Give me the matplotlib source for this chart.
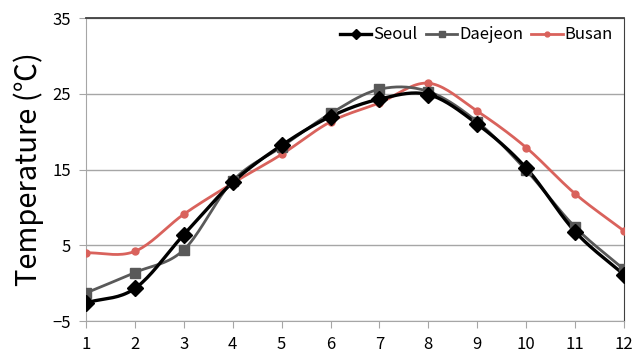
import numpy as np
import matplotlib
matplotlib.use("Agg")
import matplotlib.pyplot as plt

plt.rcParams['font.family'] = ['Noto Sans CJK KR', 'DejaVu Sans']

# Monthly mean temperature
months = [1, 2, 3, 4, 5, 6, 7, 8, 9, 10, 11, 12]
seoul = [-2.6, -0.7, 6.4, 13.3, 18.2, 22.0, 24.3, 24.9, 21.0, 15.2, 6.8, 1.1]
daejeon = [-1.3, 1.4, 4.4, 13.5, 18.0, 22.4, 25.6, 25.3, 21.3, 14.9, 7.4, 1.8]
busan = [4.0, 4.2, 9.1, 13.2, 17.0, 21.3, 23.8, 26.4, 22.7, 17.9, 11.8, 6.9]


def smooth(x, y, n=20):
    # Catmull-Rom spline through the points
    x = np.asarray(x, float)
    y = np.asarray(y, float)
    px = np.concatenate([[2 * x[0] - x[1]], x, [2 * x[-1] - x[-2]]])
    py = np.concatenate([[2 * y[0] - y[1]], y, [2 * y[-1] - y[-2]]])
    xs, ys = [], []
    t = np.linspace(0, 1, n, endpoint=False)
    for i in range(1, len(px) - 2):
        for p, out in ((px, xs), (py, ys)):
            p0, p1, p2, p3 = p[i - 1], p[i], p[i + 1], p[i + 2]
            out.extend(0.5 * (2 * p1 + (-p0 + p2) * t
                              + (2 * p0 - 5 * p1 + 4 * p2 - p3) * t ** 2
                              + (-p0 + 3 * p1 - 3 * p2 + p3) * t ** 3))
    xs.append(x[-1])
    ys.append(y[-1])
    return np.array(xs), np.array(ys)


fig = plt.figure(figsize=(6.35, 3.61), dpi=100)
ax = fig.add_axes([0.1354, 0.1108, 0.8473, 0.8392])

series = [
    ('Seoul', seoul, 'black', 'D', 8, 2.4),
    ('Daejeon', daejeon, '#595959', 's', 6.5, 2.0),
    ('Busan', busan, '#d9625c', 'o', 5, 2.0),
]
for name, vals, color, marker, ms, lw in series[::-1]:
    sx, sy = smooth(months, vals)
    ax.plot(sx, sy, color=color, lw=lw, zorder=3)
    ax.plot(months, vals, linestyle='none', marker=marker, ms=ms,
            color=color, zorder=4)

handles = [plt.Line2D([], [], color=c, lw=lw, marker=m, ms=ms * 0.7)
           for _, _, c, m, ms, lw in series]
ax.legend(handles, [s[0] for s in series], loc='upper right', ncol=3,
          frameon=False, fontsize=12, handlelength=1.9, handletextpad=0.1,
          columnspacing=0.5, borderaxespad=0.1, bbox_to_anchor=(0.995, 1.0))

ax.set_xlim(1, 12)
ax.set_ylim(-5, 35)
ax.set_xticks(months)
ax.set_yticks([-5, 5, 15, 25, 35])
ax.yaxis.grid(True, color='#a6a6a6', lw=1.0)
ax.set_axisbelow(True)
ax.tick_params(axis='both', direction='out', length=5, color='#a6a6a6',
               labelsize=12, pad=6)
for side in ('left', 'bottom'):
    ax.spines[side].set_color('#a6a6a6')
ax.spines['top'].set_color('#404040')
ax.spines['right'].set_color('#404040')
ax.spines['top'].set_linewidth(1.3)

ax.set_ylabel('Temperature (℃)', fontsize=21, labelpad=6)

fig.savefig('out.png', dpi=100)
